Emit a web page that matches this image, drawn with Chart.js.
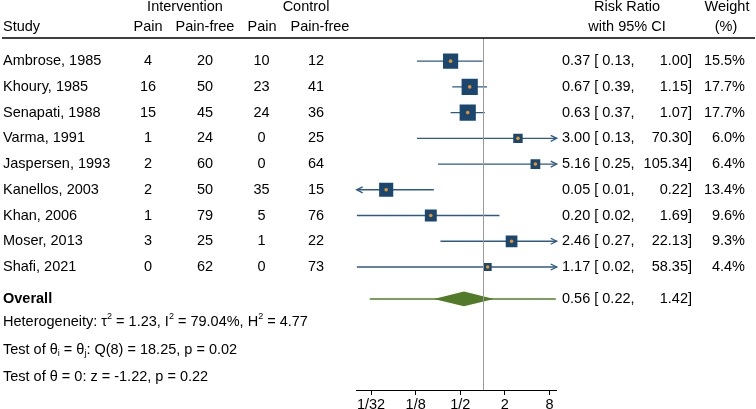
<!DOCTYPE html>
<html><head><meta charset="utf-8">
<script src="https://cdn.jsdelivr.net/npm/chart.js@4/dist/chart.umd.min.js"></script>
<style>html,body{margin:0;padding:0;background:#fff}#wrap{width:756px;height:409px;position:relative}</style>
</head><body><div id="wrap"><canvas id="c" width="756" height="409"></canvas></div>
<script>
// ---- data ----
const studies = ['Ambrose, 1985','Khoury, 1985','Senapati, 1988','Varma, 1991','Jaspersen, 1993','Kanellos, 2003','Khan, 2006','Moser, 2013','Shafi, 2021'];
const intPain = [4,16,15,1,2,2,1,3,0];
const intFree = [20,50,45,24,60,50,79,25,62];
const ctlPain = [10,23,24,0,0,35,5,1,0];
const ctlFree = [12,41,36,25,64,15,76,22,73];
const rr = [0.37,0.67,0.63,3.00,5.16,0.05,0.20,2.46,1.17];
const ciLo = [0.13,0.39,0.37,0.13,0.25,0.01,0.02,0.27,0.02];
const ciHi = [1.00,1.15,1.07,70.30,105.34,0.22,1.69,22.13,58.35];
const weight = [15.5,17.7,17.7,6.0,6.4,13.4,9.6,9.3,4.4];
const overallRR = [0.56], overallLo = [0.22], overallHi = [1.42];
const predInterval = [0.03, 9.72];
const tickVals = [1/32, 1/8, 1/2, 2, 8];
const tickLabels = ['1/32','1/8','1/2','2','8'];
const hetStats = {tau2: 1.23, I2: 79.04, H2: 4.77};
const qStats = {df: 8, Q: 18.25, p: 0.02};
const zStats = {z: -1.22, p: 0.22};

// ---- layout constants ----
const rows = studies.map((_, i) => i + 1);
const overallRow = 10.24;
const FONT = "'Liberation Sans', Arial, sans-serif";
const FS = 14.5;
const NAVY = '#1a476f', CI = '#2f5a86', ORANGE = '#f0901e', GREEN = '#527a28', GREEN_L = '#7d9e5d';

const datasets = [];
rows.forEach((r, i) => {
  datasets.push({type:'scatter', showLine:true, data:[{x:ciLo[i],y:r},{x:ciHi[i],y:r}],
    borderColor:CI, borderWidth:1.4, pointRadius:0, order:3});
});
datasets.push({type:'scatter', showLine:true, data:[{x:predInterval[0],y:overallRow},{x:predInterval[1],y:overallRow}],
  borderColor:GREEN_L, borderWidth:2, pointRadius:0, order:3});
datasets.push({type:'scatter', data: rows.map((r,i)=>({x:rr[i],y:r})), pointStyle:'rect',
  pointRadius: weight.map(w => 3.85*Math.sqrt(w)/Math.SQRT2), backgroundColor:NAVY, borderWidth:0, order:2});
datasets.push({type:'scatter', data: rows.map((r,i)=>({x:rr[i],y:r})), pointStyle:'circle',
  pointRadius:1.8, backgroundColor:ORANGE, borderWidth:0, order:1});

function rich(ctx, x, y, segs) {
  let cx = x;
  for (const [t, m] of segs) {
    if (m === 'sup') { ctx.font = `9px ${FONT}`; ctx.fillText(t, cx, y - 5); }
    else if (m === 'sub') { ctx.font = `9px ${FONT}`; ctx.fillText(t, cx, y + 4); }
    else { ctx.font = `${FS}px ${FONT}`; ctx.fillText(t, cx, y); }
    cx += ctx.measureText(t).width;
  }
}

const forestPlugin = {
  id: 'forest',
  afterDatasetsDraw(chart) {
    const ctx = chart.ctx, xs = chart.scales.x, ys = chart.scales.y, a = chart.chartArea;
    ctx.save();
    // diamond
    const yo = ys.getPixelForValue(overallRow);
    const hh = ys.getPixelForValue(overallRow + 0.29) - yo;
    ctx.beginPath();
    ctx.moveTo(xs.getPixelForValue(overallLo[0]), yo);
    ctx.lineTo(xs.getPixelForValue(overallRR[0]), yo - hh);
    ctx.lineTo(xs.getPixelForValue(overallHi[0]), yo);
    ctx.lineTo(xs.getPixelForValue(overallRR[0]), yo + hh);
    ctx.closePath();
    ctx.fillStyle = GREEN; ctx.fill();
    // reference line at 1
    const x1 = Math.round(xs.getPixelForValue(1)) + 0.5;
    ctx.strokeStyle = '#9a9a9a'; ctx.lineWidth = 1;
    ctx.beginPath(); ctx.moveTo(x1, a.top); ctx.lineTo(x1, a.bottom); ctx.stroke();
    // arrows
    ctx.strokeStyle = CI; ctx.fillStyle = CI; ctx.lineWidth = 1.3;
    rows.forEach((r, i) => {
      const y = ys.getPixelForValue(r);
      if (ciHi[i] > xs.max) {
        const t = a.right;
        ctx.beginPath(); ctx.moveTo(t - 6, y - 3); ctx.lineTo(t, y); ctx.lineTo(t - 6, y + 3); ctx.stroke();
      }
      if (ciLo[i] < xs.min) {
        const t = a.left;
        ctx.beginPath(); ctx.moveTo(t + 6, y - 3); ctx.lineTo(t, y); ctx.lineTo(t + 6, y + 3); ctx.stroke();
      }
    });
    // header rule
    ctx.strokeStyle = '#000'; ctx.lineWidth = 1.5;
    ctx.beginPath(); ctx.moveTo(2, 38); ctx.lineTo(755, 38); ctx.stroke();
    // texts
    ctx.fillStyle = '#000'; ctx.textBaseline = 'middle';
    ctx.font = `${FS}px ${FONT}`;
    const txt = (s, x, y, al) => { ctx.textAlign = al; ctx.fillText(s, x, y); };
    txt('Intervention', 185, 7, 'center');
    txt('Control', 306, 7, 'center');
    txt('Risk Ratio', 627, 7, 'center');
    txt('Weight', 727, 7, 'center');
    txt('Study', 3, 27, 'left');
    txt('Pain', 148, 27, 'center');
    txt('Pain-free', 205, 27, 'center');
    txt('Pain', 262, 27, 'center');
    txt('Pain-free', 320, 27, 'center');
    txt('with 95% CI', 627, 27, 'center');
    txt('(%)', 726, 27, 'center');
    rows.forEach((r, i) => {
      const y = ys.getPixelForValue(r);
      txt(studies[i], 3, y, 'left');
      txt(String(intPain[i]), 148, y, 'center');
      txt(String(intFree[i]), 205, y, 'center');
      txt(String(ctlPain[i]), 261.5, y, 'center');
      txt(String(ctlFree[i]), 316, y, 'center');
      txt(`${rr[i].toFixed(2)} [ ${ciLo[i].toFixed(2)},`, 562, y, 'left');
      txt(`${ciHi[i].toFixed(2)}]`, 692, y, 'right');
      txt(`${weight[i].toFixed(1)}%`, 745, y, 'right');
    });
    txt(`${overallRR[0].toFixed(2)} [ ${overallLo[0].toFixed(2)},`, 562, yo, 'left');
    txt(`${overallHi[0].toFixed(2)}]`, 692, yo, 'right');
    ctx.font = `bold ${FS}px ${FONT}`;
    txt('Overall', 3, yo, 'left');
    ctx.textAlign = 'left';
    rich(ctx, 3, 322, [['Heterogeneity: \u03C4'],['2','sup'],[` = ${hetStats.tau2.toFixed(2)}, I`],['2','sup'],
      [` = ${hetStats.I2.toFixed(2)}%, H`],['2','sup'],[` = ${hetStats.H2.toFixed(2)}`]]);
    rich(ctx, 3, 350, [['Test of \u03B8'],['i','sub'],[' = \u03B8'],['j','sub'],
      [`: Q(${qStats.df}) = ${qStats.Q.toFixed(2)}, p = ${qStats.p.toFixed(2)}`]]);
    rich(ctx, 3, 377, [[`Test of \u03B8 = 0: z = ${zStats.z.toFixed(2)}, p = ${zStats.p.toFixed(2)}`]]);
    ctx.restore();
  }
};

new Chart(document.getElementById('c'), {
  type: 'scatter',
  data: { datasets },
  options: {
    responsive: false, animation: false, devicePixelRatio: 1,
    layout: { padding: { left: 356.7, right: 199.3, top: 38, bottom: 0 } },
    plugins: { legend: {display:false}, tooltip: {enabled:false} },
    scales: {
      x: {
        type: 'logarithmic', min: 0.02, max: 10, position: 'bottom',
        afterBuildTicks: s => { s.ticks = tickVals.map(v => ({value: v})); },
        afterFit: s => { s.height = 19; },
        ticks: { autoSkip: false, maxRotation: 0, padding: 1, color: '#000',
          font: { family: FONT, size: FS }, callback: (v, i) => tickLabels[i] },
        grid: { display: true, drawOnChartArea: false, drawTicks: true, tickLength: 5, color: '#000', lineWidth: 1 },
        border: { display: true, color: '#000', width: 1 }
      },
      y: { type: 'linear', reverse: true, min: 0.1, max: 13.78, display: false }
    }
  },
  plugins: [forestPlugin]
});
</script>
</body></html>
